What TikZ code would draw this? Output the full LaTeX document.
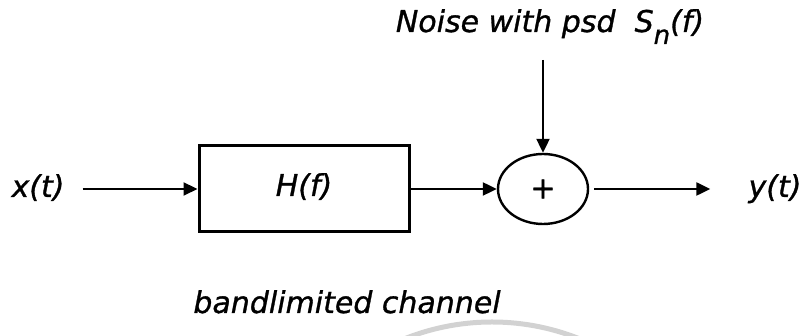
\documentclass[tikz,border=0pt]{standalone}
\usepackage{fontspec}
\setmainfont{DejaVu Sans}[ItalicFeatures={FakeBold=1}]
\newfontfamily\plusfont{DejaVu Sans}[FakeBold=1.5]
\usetikzlibrary{arrows.meta,shapes.geometric}
\tikzset{
  lbl/.style={font=\fontsize{30}{34}\selectfont\itshape, inner sep=0pt, anchor=base},
  arr/.style={line width=2.2pt, -{Triangle[length=14pt,width=13pt]}},
  chan/.style={draw, line width=3pt, minimum width=210pt, minimum height=86pt, inner sep=0pt},
  summer/.style={draw, ellipse, line width=2.4pt, minimum width=90pt, minimum height=70pt, inner sep=0pt},
  water/.style={draw=gray!35, line width=5pt}
}
\begin{document}
\begin{tikzpicture}[x=1pt,y=1pt]
\useasboundingbox (0,0) rectangle (803,336);
\begin{scope}
  \clip (0,0) rectangle (803,336);
  \draw[water] (492,-221) circle (235);
\end{scope}
\node[lbl] (x) at (38,139) {x(t)};
\node[chan] (H) at (304,147) {};
\node[lbl] (Hl) at (304,140) {H(f)};
\node[summer] (sum) at (543,147) {};
\node[font=\plusfont\fontsize{30}{30}\selectfont, inner sep=0pt] (plus) at (sum.center) {+};
\node[lbl] (y) at (775,139) {y(t)};
\node[lbl] (noise) at (550,304) {Noise with psd\ \ S\raisebox{-12pt}{\fontsize{26}{26}\selectfont n}(f)};
\node[lbl] (chanlbl) at (347,23) {bandlimited channel};
\coordinate (nstart) at (543,276);
\draw[arr, shorten <=18pt] (x.east |- H.west) -- (H.west);
\draw[arr] (H.east) -- (sum.west);
\draw[arr] (nstart) -- (sum.north);
\draw[arr, shorten <=5pt, shorten >=38pt] (sum.east) -- (y.west |- sum.east);
\end{tikzpicture}
\end{document}
